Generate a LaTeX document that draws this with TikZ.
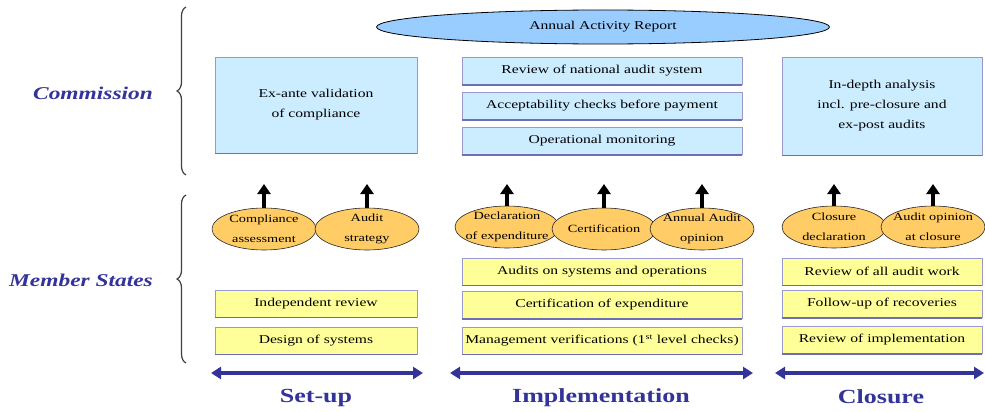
\documentclass[tikz,border=0pt]{standalone}
\usepackage{fontspec}
\setmainfont{Liberation Serif}[FakeStretch=1.3]
\usepackage{tikz}
\usetikzlibrary{shapes.geometric,arrows.meta,decorations.pathreplacing}
\newcommand{\pixelsize}{1pt}
\definecolor{boxblue}{RGB}{204,236,255}
\definecolor{boxyellow}{RGB}{255,255,153}
\definecolor{ovalorange}{RGB}{255,204,102}
\definecolor{reportblue}{RGB}{153,204,255}
\definecolor{edgepurple}{RGB}{110,110,180}
\definecolor{titleblue}{RGB}{51,51,153}
\tikzset{
	box/.style={rectangle, draw=edgepurple!70, line width=0.8pt, inner sep=0pt, minimum height=27, align=center, font=\fontsize{12}{20}\selectfont},
	bluebox/.style={box, fill=boxblue},
	yellowbox/.style={box, fill=boxyellow},
	setupcol/.style={minimum width=202},
	implcol/.style={minimum width=280},
	closcol/.style={minimum width=200},
	boxfoot/.style={draw=edgepurple, line width=1.8pt},
	oval/.style={ellipse, draw=black!85, fill=ovalorange, line width=0.6pt, minimum width=104, minimum height=42, inner sep=0pt},
	ovaltext/.style={font=\fontsize{11}{20}\selectfont, align=center, inner sep=0pt},
	reportoval/.style={ellipse, draw=black, fill=reportblue, line width=0.8pt, minimum width=453, minimum height=34, inner sep=0pt, font=\fontsize{12}{14}\selectfont},
	uparrow/.style={line width=3.5pt, -{Triangle[width=13pt,length=10pt]}},
	phase/.style={titleblue, line width=3.5pt, {Triangle[width=12pt,length=10pt]}-{Triangle[width=12pt,length=10pt]}},
	phasetitle/.style={titleblue, inner sep=0pt, font=\fontsize{20}{24}\selectfont\bfseries},
	actor/.style={titleblue, inner sep=0pt, font=\fontsize{18}{22}\selectfont\bfseries\itshape},
	bracket/.style={decorate, decoration={brace, amplitude=9pt}, draw=black!75, line width=1.2pt}
}

\begin{document}
\begin{tikzpicture}[x=\pixelsize,y=-\pixelsize]
	\useasboundingbox (0,0) rectangle (985,412);

	\node[actor] (commission) at (93,93) {Commission};
	\node[actor] (memberstates) at (81,280) {Member States};
	\draw[bracket] (186,175) -- (186,7);
	\draw[bracket] (186,363) -- (186,195);

	\node[reportoval] (report) at (603,27) {Annual Activity Report};

	\node[bluebox, setupcol, minimum height=96] (exante) at (316,105) {Ex-ante validation\\of compliance};
	\node[bluebox, implcol] (revnat) at (602,71) {Review of national audit system};
	\node[bluebox, implcol] (accept) at (602,106) {Acceptability checks before payment};
	\node[bluebox, implcol] (opmon) at (602,141) {Operational monitoring};
	\node[bluebox, closcol, minimum height=98] (indepth) at (882,106) {In-depth analysis\\incl. pre-closure and\\ex-post audits};

	\node[yellowbox, setupcol] (indrev) at (316,303.5) {Independent review};
	\node[yellowbox, setupcol] (design) at (316,340.5) {Design of systems};
	\node[yellowbox, implcol] (audsys) at (602,271.5) {Audits on systems and operations};
	\node[yellowbox, implcol] (certexp) at (602,305) {Certification of expenditure};
	\node[yellowbox, implcol] (mgmt) at (602,340.5) {Management verifications (1\textsuperscript{st} level checks)};
	\node[yellowbox, closcol] (revall) at (882,271.5) {Review of all audit work};
	\node[yellowbox, closcol] (followup) at (882,304) {Follow-up of recoveries};
	\node[yellowbox, closcol] (revimpl) at (882,340) {Review of implementation};

	\foreach \n in {exante,revnat,accept,opmon,indepth,indrev,design,audsys,certexp,mgmt,revall,followup,revimpl}
		\draw[boxfoot] (\n.south west) -- (\n.south east);

	\node[oval, label={[ovaltext]center:Compliance\\assessment}] (compl) at (264,229) {};
	\node[oval, label={[ovaltext]center:Audit\\strategy}] (audstrat) at (367,229) {};
	\node[oval, label={[ovaltext]center:Declaration\\of expenditure}] (decl) at (507,227) {};
	\node[oval, label={[ovaltext]center:Certification}] (cert) at (604,229) {};
	\node[oval, label={[ovaltext]center:Annual Audit\\opinion}] (annop) at (702,229) {};
	\node[oval, label={[ovaltext]center:Closure\\declaration}] (closdecl) at (834,227) {};
	\node[oval, label={[ovaltext]center:Audit opinion\\at closure}] (audclos) at (933,227) {};

	\coordinate (arrowline) at (0,184);
	\foreach \n in {compl,audstrat,decl,cert,annop,closdecl,audclos}{
		\coordinate (\n-top) at (\n.north |- arrowline);
		\draw[uparrow] (\n.north) -- (\n-top);
	}

	\coordinate (setup-w) at (211,373);
	\coordinate (setup-e) at (423,373);
	\coordinate (impl-w) at (450,373);
	\coordinate (impl-e) at (753,373);
	\coordinate (clos-w) at (775,373);
	\coordinate (clos-e) at (984,373);
	\draw[phase] (setup-w) -- (setup-e);
	\draw[phase] (impl-w) -- (impl-e);
	\draw[phase] (clos-w) -- (clos-e);
	\node[phasetitle] (setup) at (316,398) {Set-up};
	\node[phasetitle] (impl) at (601,398) {Implementation};
	\node[phasetitle] (closure) at (881,397) {Closure};
\end{tikzpicture}
\end{document}
